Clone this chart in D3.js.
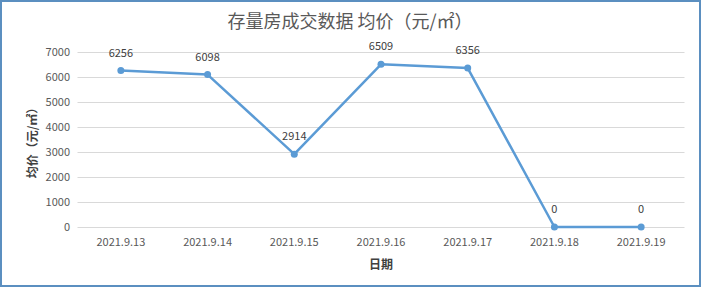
<!DOCTYPE html>
<html><head><meta charset="utf-8">
<script src="https://cdn.jsdelivr.net/npm/d3@7"></script>
<style>body{margin:0;background:#fff}svg{display:block}</style>
</head><body>
<script>
const categories = ["2021.9.13","2021.9.14","2021.9.15","2021.9.16","2021.9.17","2021.9.18","2021.9.19"];
const values = [6256, 6098, 2914, 6509, 6356, 0, 0];
const yTicks = [0,1000,2000,3000,4000,5000,6000,7000];
const title = "存量房成交数据 均价（元/㎡）";
const xTitle = "日期";
const yTitle = "均价（元/㎡）";

const W = 702, H = 288;
const svg = d3.select("body").append("svg").attr("width", W).attr("height", H);
const font = "'Microsoft YaHei','Noto Sans CJK SC','DejaVu Sans',sans-serif";

svg.append("rect").attr("x",1).attr("y",1).attr("width",W-3).attr("height",H-3)
  .attr("fill","#fff").attr("stroke","#5b8fc0").attr("stroke-width",2);

const x = d3.scaleBand().domain(categories).range([77.5, 684.5]);
const y = d3.scaleLinear().domain([0,7000]).range([227, 52]);

const g = svg.append("g");
g.selectAll("line.grid").data(yTicks).join("line")
  .attr("x1",77.5).attr("x2",684.5)
  .attr("y1",d=>Math.round(y(d))+0.5).attr("y2",d=>Math.round(y(d))+0.5)
  .attr("stroke","#d9d9d9").attr("stroke-width",1);

g.selectAll("text.yt").data(yTicks).join("text")
  .attr("x",70).attr("y",d=>y(d)+4).attr("text-anchor","end")
  .attr("font-family",font).attr("font-size",11).attr("fill","#595959").text(d=>d);

g.selectAll("text.xt").data(categories).join("text")
  .attr("x",d=>x(d)+x.bandwidth()/2).attr("y",246).attr("text-anchor","middle")
  .attr("font-family",font).attr("font-size",11).attr("fill","#595959").text(d=>d);

const cx = (d,i)=>x(categories[i])+x.bandwidth()/2;
const line = d3.line().x((d,i)=>cx(d,i)).y(d=>y(d));
g.append("path").datum(values).attr("d",line).attr("fill","none")
  .attr("stroke","#5b9bd5").attr("stroke-width",2.5).attr("stroke-linejoin","round");
g.selectAll("circle").data(values).join("circle")
  .attr("cx",cx).attr("cy",d=>y(d)).attr("r",3.5).attr("fill","#5b9bd5");
g.selectAll("text.lbl").data(values).join("text")
  .attr("x",cx).attr("y",d=>y(d)-14).attr("text-anchor","middle")
  .attr("font-family",font).attr("font-size",11).attr("fill","#404040").text(d=>d);

svg.append("text").attr("x",350).attr("y",28).attr("text-anchor","middle")
  .attr("font-family",font).attr("font-size",18).attr("fill","#595959").text(title);
svg.append("text").attr("x",381).attr("y",269).attr("text-anchor","middle")
  .attr("font-family",font).attr("font-size",12).attr("font-weight","bold").attr("fill","#404040").text(xTitle);
svg.append("text").attr("transform","translate(37,140) rotate(-90)").attr("text-anchor","middle")
  .attr("font-family",font).attr("font-size",12).attr("font-weight","bold").attr("fill","#404040").text(yTitle);
</script>
</body></html>
